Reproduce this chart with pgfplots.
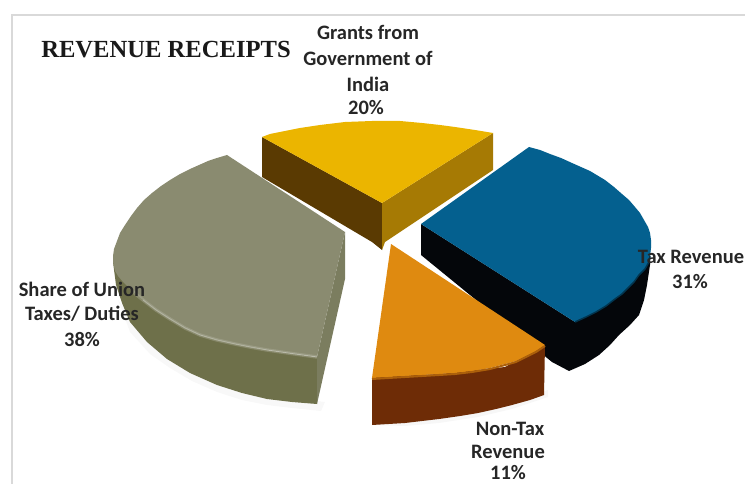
\documentclass[border=0pt]{standalone}
\usepackage{pgfplots}
\pgfplotsset{compat=1.18}
\usepackage{fontspec}
\setmainfont{Carlito}
\newfontfamily\titlefont{Liberation Serif}
\definecolor{goldtop}{HTML}{EBB500}
\definecolor{goldleft}{HTML}{5A3A02}
\definecolor{goldright}{HTML}{A67A04}
\definecolor{bluetop}{HTML}{04608F}
\definecolor{blueside}{HTML}{04060A}
\definecolor{orangetop}{HTML}{DF8A10}
\definecolor{orangeside}{HTML}{6E2C06}
\definecolor{greytop}{HTML}{8A8B70}
\definecolor{greyfront}{HTML}{6E704A}
\definecolor{greyright}{HTML}{7B7D5F}
\definecolor{frameline}{HTML}{D9D9D9}
\tikzset{lab/.style={font=\fontsize{20.5}{20.5}\selectfont\bfseries,text=black!85,inner sep=0pt,anchor=center}}
\begin{document}
\begin{tikzpicture}
\useasboundingbox (0,0) rectangle (745pt,484pt);
\clip (0,0) rectangle (745pt,484pt);
\begin{axis}[
  at={(0,0)},anchor=south west,
  width=745pt,height=484pt,scale only axis,
  xmin=0,xmax=745,ymin=0,ymax=484,y dir=reverse,
  axis lines=none,clip=false,
]
% chart frame
\addplot[frameline,line width=1.5pt] coordinates {(12,484) (12,15) (745,15)};

% soft shadows
\addplot[fill=black!4,draw=none,opacity=.7] coordinates {(118,300) (130,332) (150,354) (170,368) (192,381) (217,392) (242,400) (267,405) (292,408) (321,411) (325,402) (292,398) (242,388) (190,368) (147,336) (126,310)} --cycle;
\addplot[fill=black!5,draw=none,opacity=.6] coordinates {(372,425) (405,426) (439,423) (478,417) (512,409) (548,397) (548,390) (512,400) (439,415) (372,421)} --cycle;

% Share of Union Taxes / Duties
\addplot[fill=greyfront,draw=none] coordinates {(113,262) (116,285) (122,303) (130,322) (147,342) (167,359) (190,373) (217,385) (242,393) (267,399) (292,402) (317,404) (317,357) (267,350) (200,335) (143,299) (123,279)} --cycle;
\addplot[fill=greyright,draw=none] coordinates {(345,232) (345,279) (317,404) (317,357)} --cycle;
\addplot[fill=greytop,draw=none] coordinates {(227,155) (217,158) (208,161) (199,165) (190,169) (180,174) (170,180) (161,186) (152,193) (144,200) (137,208) (131,216) (125,225) (120,233) (117,241) (114,249) (113,256) (113,262) (115,271) (118,276) (123,282) (132,291) (143,300) (156,310) (170,319) (185,328) (200,335) (217,340) (235,344) (250,347) (267,350) (295,354) (317,357) (345,232)} --cycle;
% rim highlight along the outer edge
\addplot[greytop!60!white,line width=3.5pt,opacity=.35] coordinates {(132,291) (143,300) (156,310) (170,319) (185,328) (200,335) (217,340) (235,344) (250,347) (267,350) (295,354) (317,357)};
\addplot[greytop!40!white,line width=1pt,opacity=.5] coordinates {(143,300) (156,310) (170,319) (185,328) (200,335) (217,340) (235,344) (250,347) (267,350) (295,354) (317,357)};

% Grants from Government of India
\addplot[fill=goldleft,draw=none] coordinates {(262,137) (382,203) (382,250) (372,242) (262,177)} --cycle;
\addplot[fill=goldright,draw=none] coordinates {(493,133) (493,170) (385,242) (382,250) (382,203)} --cycle;
\addplot[fill=goldtop,draw=none] coordinates {(262,137) (270,134) (280,132) (290,130) (300,128) (320,125) (345,122) (372,121) (400,121) (422,123) (440,125) (455,127) (475,130) (493,133) (382,203)} --cycle;

% Tax Revenue
\addplot[fill=blueside,draw=none] coordinates {(421,224) (421,255) (552,362) (569,371) (585,364) (599,355) (610,345) (619,335) (630,325) (639,315) (644,300) (647,285) (650,265) (650,250) (575,322)} --cycle;
\addplot[fill=bluetop,draw=none] coordinates {(421,224) (529,147) (540,150) (550,154) (561,158) (572,163) (590,171) (605,180) (614,187) (622,194) (629,200) (635,207) (640,213) (644,220) (648,227) (650,233) (651,240) (651,248) (650,256) (649,262) (645,269) (639,275) (634,282) (628,288) (622,294) (615,299) (606,306) (596,312) (586,317) (575,322)} --cycle;
\addplot[bluetop!55!black,line width=1.5pt] coordinates {(650,256) (649,262) (645,269) (639,275) (634,282) (628,288) (622,294) (615,299) (606,306) (596,312) (586,317) (575,322)};

% Non-Tax Revenue
\addplot[fill=orangeside,draw=none] coordinates {(372,377) (372,425) (405,423) (439,419) (460,416) (478,413) (496,409) (512,405) (530,400) (544,395) (545,345) (505,367) (439,374)} --cycle;
\addplot[fill=orangetop,draw=none] coordinates {(391,244) (545,345) (536,351) (526,356) (516,361) (505,364) (490,368) (472,371) (455,373) (439,374) (405,376) (372,378)} --cycle;
\addplot[orangetop!55!orangeside,line width=2pt] coordinates {(545,346) (536,352) (526,357) (516,362) (505,365) (490,369) (472,372) (455,374) (439,375) (405,377) (372,379)};

% title and labels
\node[anchor=center,text=black!90] at (axis cs:166,50) {\titlefont\fontsize{24.6}{24.6}\selectfont\bfseries REVENUE RECEIPTS};
\node[lab] at (axis cs:368,32) {Grants from};
\node[lab] at (axis cs:368,58) {Government of};
\node[lab] at (axis cs:368,84) {India};
\node[lab] at (axis cs:366,108) {20\%};
\node[lab] at (axis cs:691,257) {Tax Revenue};
\node[lab] at (axis cs:690,282) {31\%};
\node[lab] at (axis cs:510,429) {Non-Tax};
\node[lab] at (axis cs:508,452) {Revenue};
\node[lab] at (axis cs:508,473) {11\%};
\node[lab] at (axis cs:82,289) {Share of Union};
\node[lab] at (axis cs:82,314) {Taxes/ Duties};
\node[lab] at (axis cs:82,340) {38\%};
\end{axis}
\end{tikzpicture}
\end{document}
